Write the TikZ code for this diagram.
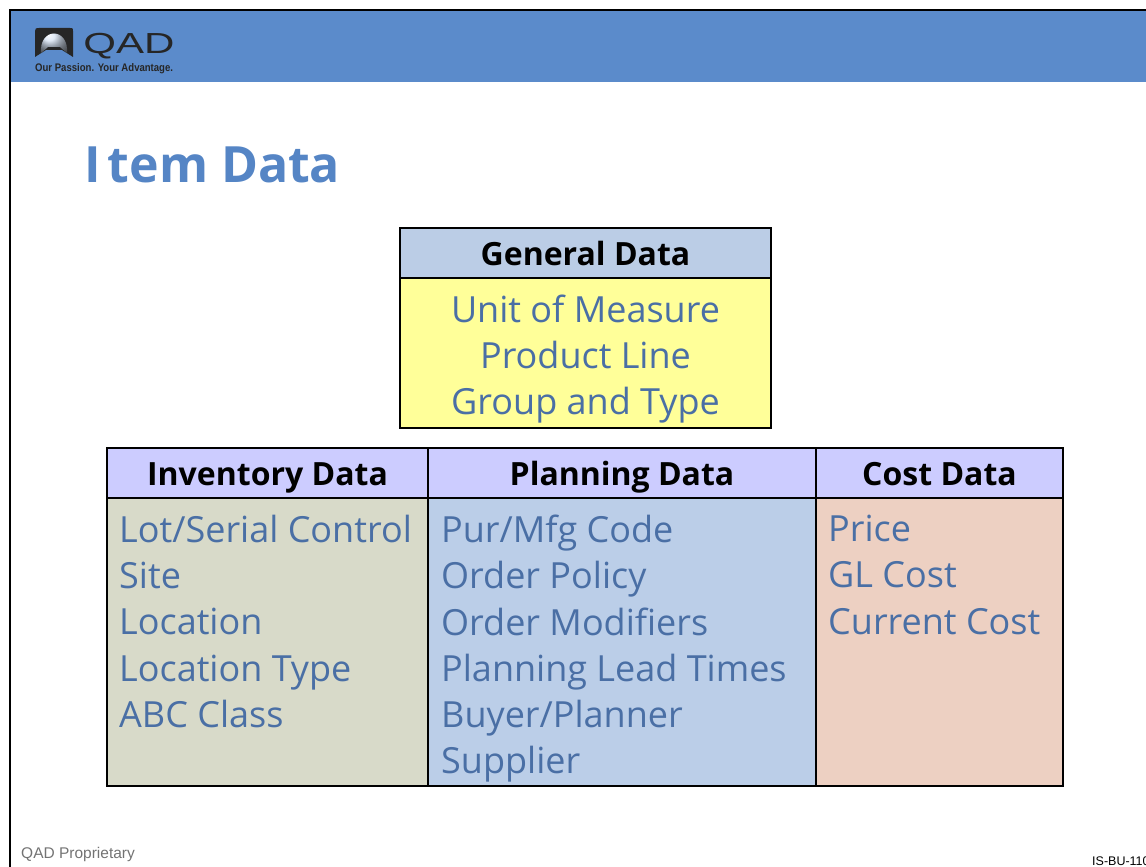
\documentclass[tikz,border=0pt]{standalone}
\usepackage{fontspec}
\setmainfont{Open Sans}
\newfontfamily\footfont{Liberation Sans}
\usetikzlibrary{positioning}

\definecolor{bannerblue}{HTML}{5B8BCB}
\definecolor{titleblue}{HTML}{5585C5}
\definecolor{textblue}{HTML}{4A6FA5}
\definecolor{generalhead}{HTML}{BBCDE6}
\definecolor{generalbody}{HTML}{FFFF99}
\definecolor{grouphead}{HTML}{CCCCFF}
\definecolor{invbody}{HTML}{D8DAC9}
\definecolor{planbody}{HTML}{BBCEE8}
\definecolor{costbody}{HTML}{EDD0C2}

\tikzset{
    headbox/.style={draw=black,line width=1.5pt,inner sep=0pt,outer sep=0pt,text height=27pt,text depth=3pt,font=\fontsize{32}{36}\selectfont\bfseries},
    bodybox/.style={draw=black,line width=1.5pt,inner sep=0pt,outer sep=0pt},
    bodytext/.style={inner sep=0pt,text=textblue,align=left,font=\fontsize{36}{46.2}\selectfont},
}

\begin{document}
\begin{tikzpicture}[x=1pt,y=-1pt]
    \useasboundingbox (0,0) rectangle (1146,867);

    % banner and frame
    \fill[bannerblue] (11,11) rectangle (1146,82);
    \draw[line width=2pt] (10,867) -- (10,10) -- (1146,10);

    % logo
    \fill[black!85] (35,31) .. controls (35,28) and (36,28) .. (39,28) -- (70,28) .. controls (73,28) and (73,28) .. (73,31) -- (73,57) -- (62,50) -- (46,50) -- (35,57) -- cycle;
    \shade[ball color=white!75!bannerblue] (41,53) .. controls (39,27) and (69,27) .. (67,53) -- (60,47) -- (48,47) -- cycle;
    \node[inner sep=0pt,anchor=base west,xscale=1.45,text=black!85] (qad) at (83,54) {\footfont\fontsize{29}{29}\selectfont QAD};
    \node[inner sep=0pt,anchor=base west,xscale=.87,text=black!85] (slogan) at (35,72) {\footfont\fontsize{11}{11}\selectfont\bfseries Our Passion. Your Advantage.};

    % title
    \node[inner sep=0pt,anchor=base west,text=titleblue] (title) at (84,182) {\fontsize{50}{50}\selectfont\bfseries I\kern7pt tem Data};

    % general data
    \node[headbox,fill=generalhead,minimum width=371pt,minimum height=50pt,anchor=north west] (generalhead) at (400,228) {General Data};
    \node[bodybox,fill=generalbody,minimum width=371pt,minimum height=150pt,anchor=north west] (generalbody) at (400,278) {};
    \node[bodytext,align=center,anchor=center] (generaltext) at ([yshift=-6pt]generalbody.center) {Unit of Measure\\Product Line\\Group and Type};

    % inventory, planning, cost
    \node[headbox,fill=grouphead,minimum width=321pt,minimum height=50pt,anchor=north west] (invhead) at (107,448) {Inventory Data};
    \node[headbox,fill=grouphead,minimum width=388pt,minimum height=50pt,anchor=north west] (planhead) at (428,448) {Planning Data};
    \node[headbox,fill=grouphead,minimum width=247pt,minimum height=50pt,anchor=north west] (costhead) at (816,448) {Cost Data};

    \node[bodybox,fill=invbody,minimum width=321pt,minimum height=288pt,anchor=north west] (invbody) at (107,498) {};
    \node[bodybox,fill=planbody,minimum width=388pt,minimum height=288pt,anchor=north west] (planbody) at (428,498) {};
    \node[bodybox,fill=costbody,minimum width=247pt,minimum height=288pt,anchor=north west] (costbody) at (816,498) {};

    \node[bodytext,anchor=north west] (invtext) at (119,515) {Lot/Serial Control\\Site\\Location\\Location Type\\ABC Class};
    \node[bodytext,anchor=north west] (plantext) at (441,515) {Pur/Mfg Code\\Order Policy\\Order Modifiers\\Planning Lead Times\\Buyer/Planner\\Supplier};
    \node[bodytext,anchor=north west] (costtext) at (828,515) {Price\\GL Cost\\Current Cost};

    % footer
    \node[inner sep=0pt,anchor=base west,text=black!55] (proprietary) at (21,858) {\footfont\fontsize{15.5}{16}\selectfont QAD Proprietary};
    \node[inner sep=0pt,anchor=base west] (code) at (1092,865) {\footfont\fontsize{12.5}{13}\selectfont IS-BU-110};
\end{tikzpicture}
\end{document}
